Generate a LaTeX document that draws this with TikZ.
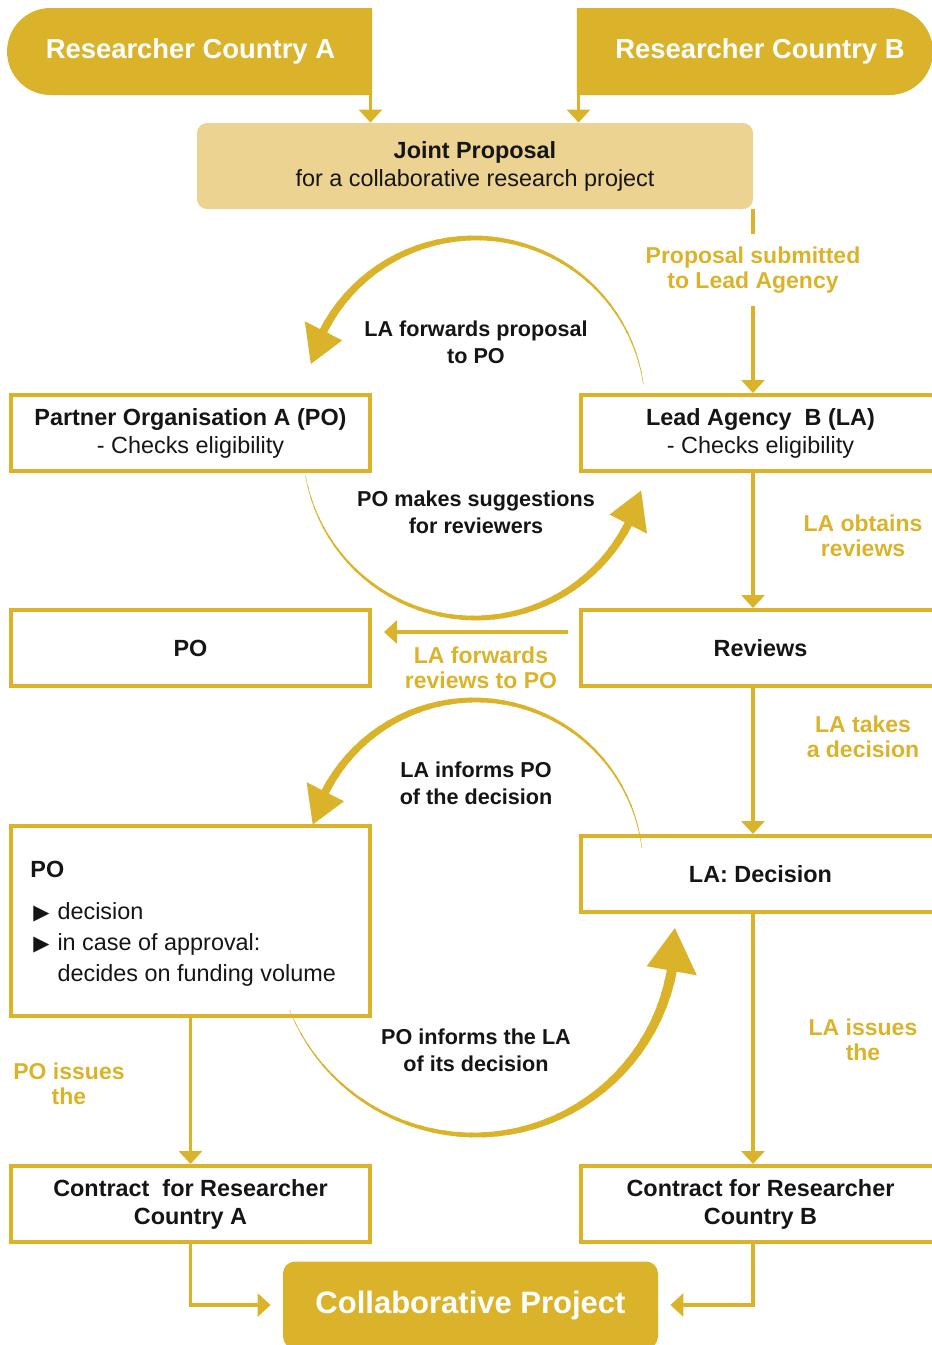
\documentclass[tikz,border=0pt]{standalone}
\usepackage{fontspec}
\setmainfont{Liberation Sans}
\newfontfamily\symfont{DejaVu Sans}
\usetikzlibrary{arrows.meta,shapes.misc,positioning}
\definecolor{gold}{HTML}{DBB32B}
\definecolor{goldlight}{HTML}{ECD391}
\definecolor{ink}{HTML}{151515}
\tikzset{
  box/.style={draw=gold, line width=2pt, minimum width=179.5pt, minimum height=38pt, align=center, inner sep=0pt, text=ink, font=\fontsize{11.7}{14}\selectfont},
  pill/.style={rounded rectangle, fill=gold, text=white, minimum height=43.5pt, inner sep=0pt, font=\bfseries\fontsize{13.7}{16}\selectfont},
  note/.style={text=gold, align=center, inner sep=0pt, font=\bfseries\fontsize{11.5}{12.5}\selectfont},
  say/.style={text=ink, align=center, inner sep=0pt, font=\bfseries\fontsize{10.8}{13.5}\selectfont},
  flow/.style={draw=gold, line width=1.8pt, -{Triangle[length=6.5pt, width=11.5pt]}},
}
\begin{document}
\begin{tikzpicture}[x=0.5pt, y=-0.5pt]
\clip (0,0) rectangle (932,1345);
\coordinate (col) at (753,0);

% researchers and proposal
\node[pill, rounded rectangle right arc=none, minimum width=182.5pt] (resA) at (190.5,51.5) {Researcher Country A};
\node[pill, rounded rectangle left arc=none, minimum width=178pt] (resB) at (754,51.5) {\hspace{6pt}Researcher Country B};
\node[fill=goldlight, rounded corners=5pt, minimum width=278pt, minimum height=43pt, align=center, text=ink, font=\fontsize{11.7}{14}\selectfont] (joint) at (475,166) {\textbf{Joint Proposal}\\for a collaborative research project};
\draw[flow] ([xshift=-1pt]resA.east |- resA.south) -- ([xshift=-1pt]resA.east |- joint.north);
\draw[flow] ([xshift=1pt]resB.west |- resB.south) -- ([xshift=1pt]resB.west |- joint.north);

% boxes
\node[box] (poA) at (190.5,433) {\textbf{Partner Organisation A (PO)}\\- Checks eligibility};
\node[box] (la) at (760.5,433) {\textbf{Lead Agency~ B (LA)}\\- Checks eligibility};
\node[box] (po) at (190.5,648) {\textbf{PO}};
\node[box] (rev) at (760.5,648) {\textbf{Reviews}};
\node[box, minimum height=95pt] (podec) at (190.5,921) {};
\node[anchor=base west, inner sep=0pt, text=ink, font=\fontsize{11.7}{15.5}\selectfont] (podectxt) at (30,877)
  {\begin{tabular}[t]{@{}l@{\hspace{4pt}}l@{}}
   \multicolumn{2}{@{}l@{}}{\textbf{PO}}\\[5.5pt]
   \hspace{1.5pt}{\symfont\fontsize{10.5}{10.5}\selectfont ▶} & decision\\
   \hspace{1.5pt}{\symfont\fontsize{10.5}{10.5}\selectfont ▶} & in case of approval:\\
   & decides on funding volume
   \end{tabular}};
\node[box] (ladec) at (760.5,874) {\textbf{LA: Decision}};
\node[box] (conA) at (190.5,1204) {\textbf{Contract~ for Researcher}\\\textbf{Country A}};
\node[box] (conB) at (760.5,1204) {\textbf{Contract for Researcher}\\\textbf{Country B}};
\node[fill=gold, rounded corners=6pt, minimum width=187.5pt, minimum height=43.5pt, text=white, font=\bfseries\fontsize{15.5}{18}\selectfont] (collab) at (470.5,1305) {Collaborative Project};

% gold labels
\node[note, inner ysep=6pt] (submit) at (753,270) {Proposal submitted\\to Lead Agency};
\node[note] (obtain) at (863,536) {LA obtains\\reviews};
\node[note] (takes) at (863,737) {LA takes\\a decision};
\node[note] (issueB) at (863,1040) {LA issues\\the};
\node[note] (issueA) at (69,1084) {PO issues\\the};
\node[note] (fwdrev) at (481,668) {LA forwards\\reviews to PO};

% black labels in the loops
\node[say] (fwdprop) at (476,342) {LA forwards proposal\\to PO};
\node[say] (suggest) at (476,512) {PO makes suggestions\\for reviewers};
\node[say] (informPO) at (476,783) {LA informs PO\\of the decision};
\node[say] (informLA) at (476,1050) {PO informs the LA\\of its decision};

% straight connectors
\draw[draw=gold, line width=1.8pt] (joint.south -| col) -- (submit.north);
\draw[flow] (submit.south) -- (submit.south |- la.north);
\draw[flow] (la.south -| col) -- (rev.north -| col);
\draw[flow] (rev.south -| col) -- (ladec.north -| col);
\draw[flow] (ladec.south -| col) -- (conB.north -| col);
\draw[flow] (podec.south) -- (conA.north);
\draw[flow, shorten <=5.5pt, shorten >=6pt] ([yshift=8pt]rev.west) -- ([yshift=8pt]po.east);
\draw[flow, shorten >=6pt] (conA.south) |- (collab.west);
\draw[flow, shorten >=6pt] (conB.south -| col) |- (collab.east);

% tapered loop arrows
\foreach \cx/\cy/\r/\a/\b/\t/\hw/\w in {475/408/170/-8/-153/-165/21/4, 475/446/172/170/27/15/21/4, 475/868/168/-7/-153/-165/21/4, 475/935/200/158/10.3/-2/25.5/5}{
  \foreach \k in {0,...,39}{
    \pgfmathsetmacro\aa{(\a)+((\b)-(\a))*\k/40}
    \pgfmathsetmacro\ab{(\a)+((\b)-(\a))*(\k+1.2)/40}
    \pgfmathsetmacro\lw{0.25+(\w-0.25)*\k/39}
    \draw[gold, line width=\lw pt, shift={(\cx,\cy)}] (\aa:\r) arc[start angle=\aa, end angle=\ab, radius=\r];
  }
  \pgfmathsetmacro\ro{\r+\hw}
  \pgfmathsetmacro\ri{\r-\hw}
  \fill[gold, shift={(\cx,\cy)}] (\t:\r) -- (\b:\ro) -- (\b:\ri) -- cycle;
}
\end{tikzpicture}
\end{document}
